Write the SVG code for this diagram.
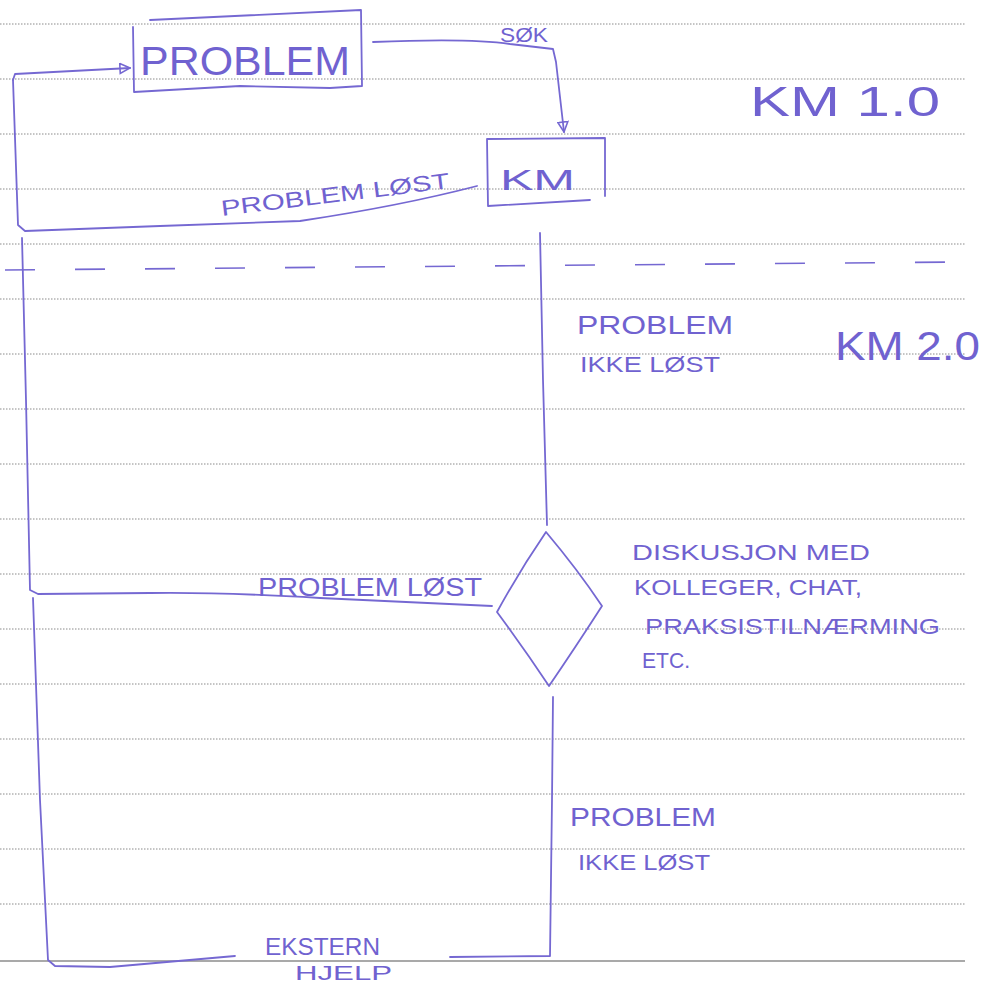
<svg xmlns="http://www.w3.org/2000/svg" width="998" height="986" viewBox="0 0 998 986">
<style>
.rule{stroke:#8a8a8a;stroke-width:1;stroke-dasharray:1.5 1.5;fill:none}
.pen{stroke:#7568d2;stroke-width:1.8;fill:none;stroke-linecap:round;stroke-linejoin:round}
.dash{stroke:#7568d2;stroke-width:1.6;fill:none;stroke-dasharray:30 40}
.t{font-family:"Liberation Sans",Arial,sans-serif;fill:#7062d0}
</style>
<defs>
<marker id="arr" viewBox="0 0 12 12" refX="11" refY="6" markerWidth="12" markerHeight="12" markerUnits="userSpaceOnUse" orient="auto">
<path d="M1,1 L11,6 L1,11 Z" fill="none" stroke="#7568d2" stroke-width="1.6"/>
</marker>
</defs>
<rect width="998" height="986" fill="#ffffff"/>
<g id="ruling">
<path class="rule" d="M0,24H965M0,79H965M0,134H965M0,189H965M0,244H965M0,299H965M0,354H965M0,409H965M0,464H965M0,519H965M0,574H965M0,629H965M0,684H965M0,739H965M0,794H965M0,849H965M0,904H965"/>
<path d="M0,961H965" stroke="#555" stroke-width="1.2"/>
<path class="dash" d="M5,270 L960,262"/>
</g>
<g id="connectors">
<path class="pen" d="M13,80 L15,74 L130,68" marker-end="url(#arr)"/>
<path class="pen" d="M373,42 Q470,38 510,44 L553,49 L556,62 L564,132" marker-end="url(#arr)"/>
<path class="pen" d="M477,186 Q400,206 300,221 L160,226 L25,231 L18,225 L13,80"/>
<path class="pen" d="M540,233 L543,380 L547,525"/>
<path class="pen" d="M22,238 L26,400 L30,590 L38,594 L150,593 Q220,592 320,598 L492,606"/>
<path class="pen" d="M553,697 L552,800 L550,956 L450,957"/>
<path class="pen" d="M33,598 L40,800 L48,960 L55,966 L110,967 L235,956"/>
</g>
<g id="n-problem">
<path class="pen" d="M133,27 L134,92 L240,86 L330,88 L362,86 L361,10 L150,20"/>
<text class="t" x="140" y="75" font-size="40" textLength="210" lengthAdjust="spacingAndGlyphs">PROBLEM</text>
</g>
<g id="n-km">
<path class="pen" d="M487,139 L605,138 L605,196 M487,139 L488,206 L590,200"/>
<text class="t" x="500" y="190" font-size="30" textLength="75" lengthAdjust="spacingAndGlyphs">KM</text>
</g>
<g id="n-diamond">
<path class="pen" d="M546,532 Q520,570 497,612 Q525,650 549,686 Q575,648 602,606 Q578,570 546,532 Z"/>
</g>
<g id="labels">
<text class="t" x="500" y="42" font-size="20" textLength="48" lengthAdjust="spacingAndGlyphs">SØK</text>
<text class="t" x="750" y="116" font-size="42" textLength="190" lengthAdjust="spacingAndGlyphs">KM 1.0</text>
<text class="t" x="222" y="216" font-size="22" textLength="230" lengthAdjust="spacingAndGlyphs" transform="rotate(-7 222 216)">PROBLEM LØST</text>
<text class="t" x="577" y="334" font-size="25" textLength="156" lengthAdjust="spacingAndGlyphs">PROBLEM</text>
<text class="t" x="580" y="372" font-size="22" textLength="140" lengthAdjust="spacingAndGlyphs">IKKE LØST</text>
<text class="t" x="835" y="360" font-size="40" textLength="145" lengthAdjust="spacingAndGlyphs">KM 2.0</text>
<text class="t" x="258" y="596" font-size="26" textLength="224" lengthAdjust="spacingAndGlyphs">PROBLEM LØST</text>
<text class="t" x="632" y="560" font-size="22" textLength="238" lengthAdjust="spacingAndGlyphs">DISKUSJON MED</text>
<text class="t" x="634" y="595" font-size="22" textLength="228" lengthAdjust="spacingAndGlyphs">KOLLEGER, CHAT,</text>
<text class="t" x="645" y="634" font-size="22" textLength="295" lengthAdjust="spacingAndGlyphs">PRAKSISTILNÆRMING</text>
<text class="t" x="642" y="668" font-size="22" textLength="48" lengthAdjust="spacingAndGlyphs">ETC.</text>
<text class="t" x="570" y="826" font-size="25" textLength="146" lengthAdjust="spacingAndGlyphs">PROBLEM</text>
<text class="t" x="578" y="870" font-size="22" textLength="132" lengthAdjust="spacingAndGlyphs">IKKE LØST</text>
<text class="t" x="265" y="955" font-size="24" textLength="115" lengthAdjust="spacingAndGlyphs">EKSTERN</text>
<text class="t" x="295" y="980" font-size="21" textLength="97" lengthAdjust="spacingAndGlyphs">HJELP</text>
</g>
</svg>
